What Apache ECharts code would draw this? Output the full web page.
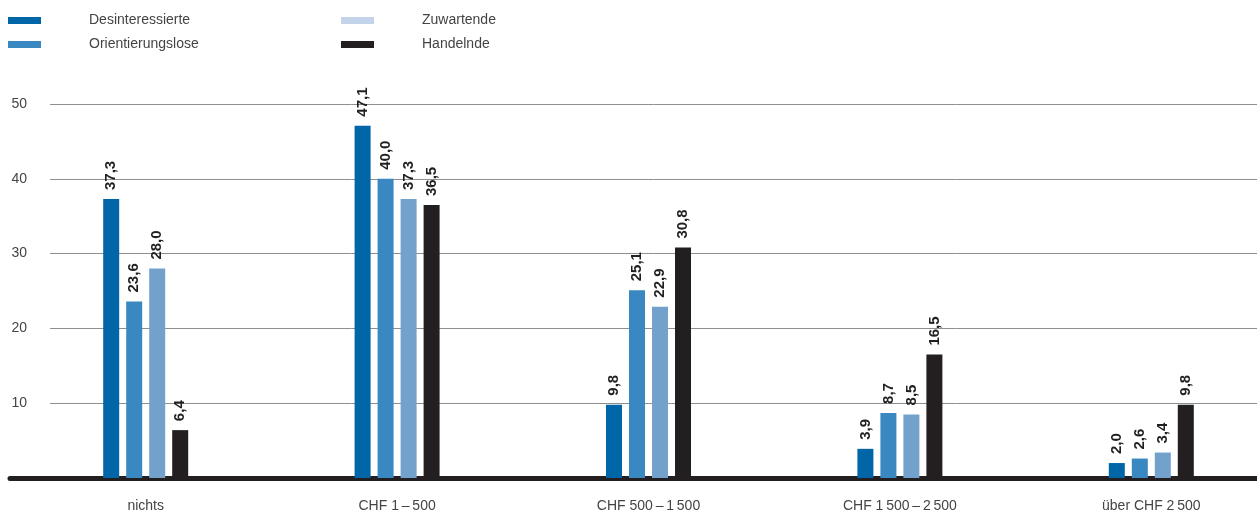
<!DOCTYPE html>
<html>
<head>
<meta charset="utf-8">
<script src="https://cdn.jsdelivr.net/npm/echarts@6/dist/echarts.min.js"></script>
<style>
  html, body { margin: 0; padding: 0; background: #fff; }
  #chart { width: 1257px; height: 515px; }
</style>
</head>
<body>
<div id="chart"></div>
<script>
  // categories and values (percent)
  const categories = [
    'nichts',
    'CHF 1\u2009–\u2009500',
    'CHF 500\u2009–\u20091\u2009500',
    'CHF 1\u2009500\u2009–\u20092\u2009500',
    'über CHF 2\u2009500',
  ];
  const desinteressierte = [37.3, 47.1, 9.8, 3.9, 2.0];
  const orientierungslose = [23.6, 40.0, 25.1, 8.7, 2.6];
  const zuwartende = [28.0, 37.3, 22.9, 8.5, 3.4];
  const handelnde = [6.4, 36.5, 30.8, 16.5, 9.8];
  const yTicks = [0, 10, 20, 30, 40, 50];

  const seriesData = [
    { name: 'Desinteressierte', data: desinteressierte, color: '#0066a8' },
    { name: 'Orientierungslose', data: orientierungslose, color: '#3a88c2' },
    { name: 'Zuwartende', data: zuwartende, color: '#72a1cc', legendColor: '#c3d4ea' },
    { name: 'Handelnde', data: handelnde, color: '#231f20' },
  ];

  const FONT = 'Liberation Sans';
  const TEXT_GRAY = '#444';

  const legendBase = {
    orient: 'vertical',
    top: 12,
    padding: 0,
    itemWidth: 33,
    itemHeight: 7,
    itemGap: 7,
    icon: 'rect',
    selectedMode: false,
    textStyle: {
      fontFamily: FONT,
      fontSize: 14,
      color: TEXT_GRAY,
      lineHeight: 17,
      padding: [0, 0, 0, 43],
    },
  };
  const legendItem = (s) => ({
    name: s.name,
    itemStyle: { color: s.legendColor || s.color },
  });

  const chart = echarts.init(document.getElementById('chart'));

  const option = {
    animation: false,
    legend: [
      Object.assign({}, legendBase, { left: 8, data: [legendItem(seriesData[0]), legendItem(seriesData[1])] }),
      Object.assign({}, legendBase, { left: 341, data: [legendItem(seriesData[2]), legendItem(seriesData[3])] }),
    ],
    grid: [
      // value scale + gridlines
      { left: 50, right: 0, top: 104, bottom: 37, outerBoundsMode: 'none' },
      // bars (plot runs a bit past the right edge, as in the source)
      { left: 20, right: -20, top: 104, bottom: 37, outerBoundsMode: 'none' },
      // thick baseline
      { left: 10, right: 0, top: 104, bottom: 37, outerBoundsMode: 'none' },
    ],
    xAxis: [
      { gridIndex: 0, type: 'category', data: categories, show: false },
      {
        gridIndex: 1,
        type: 'category',
        data: categories,
        axisLine: { show: false },
        axisTick: { show: false },
        axisLabel: {
          margin: 21,
          fontFamily: FONT,
          fontSize: 14,
          color: TEXT_GRAY,
          interval: 0,
        },
      },
      {
        gridIndex: 2,
        type: 'value',
        min: 0,
        max: 1,
        axisLine: { show: true, lineStyle: { color: '#231f20', width: 5 } },
        axisTick: { show: false },
        axisLabel: { show: false },
        splitLine: { show: false },
      },
    ],
    yAxis: [
      {
        gridIndex: 0,
        type: 'value',
        min: yTicks[0],
        max: yTicks[yTicks.length - 1],
        interval: 10,
        axisLine: { show: false },
        axisTick: { show: false },
        axisLabel: {
          margin: 23,
          fontFamily: FONT,
          fontSize: 14,
          color: TEXT_GRAY,
          formatter: (v) => (v === 0 ? '' : String(v)),
        },
        splitLine: { lineStyle: { color: '#8f8f8f', width: 1 } },
      },
      { gridIndex: 1, type: 'value', min: 0, max: 50, show: false },
      { gridIndex: 2, type: 'value', min: 0, max: 1, show: false },
    ],
    series: seriesData.map((s) => ({
      name: s.name,
      type: 'bar',
      xAxisIndex: 1,
      yAxisIndex: 1,
      data: s.data,
      barWidth: 16,
      barGap: '43.75%',
      itemStyle: { color: s.color },
      label: {
        show: true,
        position: 'top',
        rotate: 90,
        align: 'left',
        verticalAlign: 'middle',
        distance: 9,
        fontFamily: FONT,
        fontWeight: 'bold',
        fontSize: 15,
        color: '#231f20',
        formatter: (p) => p.value.toFixed(1).replace('.', ','),
      },
    })),
  };

  chart.setOption(option);
</script>
</body>
</html>
